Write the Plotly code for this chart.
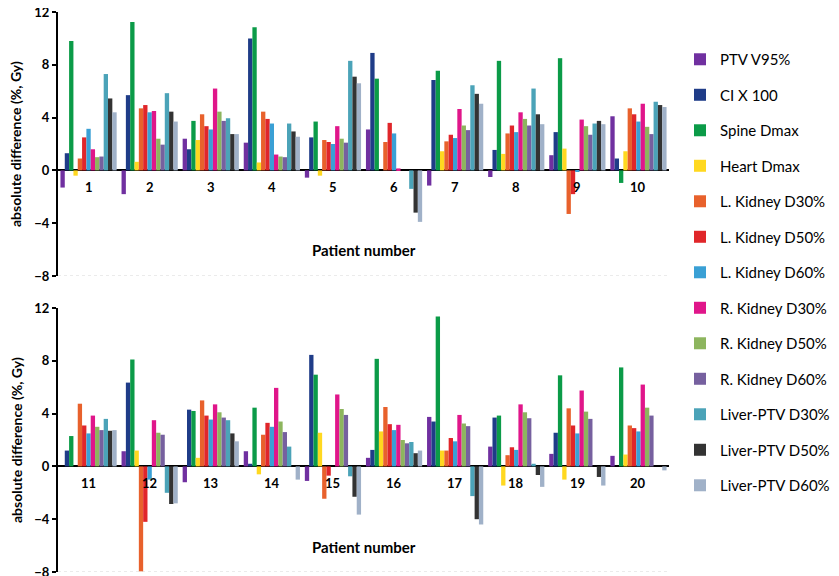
import plotly.graph_objects as go

patients = [str(i) for i in range(1, 21)]
series_names = ["PTV V95%", "CI X 100", "Spine Dmax", "Heart Dmax", "L. Kidney D30%",
                "L. Kidney D50%", "L. Kidney D60%", "R. Kidney D30%", "R. Kidney D50%",
                "R. Kidney D60%", "Liver-PTV D30%", "Liver-PTV D50%", "Liver-PTV D60%"]

ptv_v95 = [-1.3, -1.8, 2.4, 2.1, -0.55, 3.1, -1.15, -0.5, 1.15, 4.1, 0, 1.15, -1.2, 1.15, -1.1, 0.65, 3.75, 1.5, 0.95, 0.8]
ci_x100 = [1.3, 5.7, 1.6, 10.0, 2.5, 8.9, 6.85, 1.55, 2.9, 0.9, 1.2, 6.35, 4.3, 0.2, 8.45, 1.25, 3.4, 3.7, 2.55, 0]
spine_dmax = [9.8, 11.25, 3.75, 10.85, 3.7, 6.95, 7.55, 8.3, 8.5, -0.95, 2.3, 8.1, 4.2, 4.45, 6.95, 8.15, 11.35, 3.85, 6.9, 7.5]
heart_dmax = [-0.4, 0.65, 2.3, 0.6, -0.4, 0, 1.45, 1.25, 1.65, 1.45, 0, 1.2, 0.65, -0.6, 2.55, 2.65, 1.2, -1.45, -1.0, 0.9]
lk_d30 = [0.9, 4.7, 4.25, 4.45, 2.3, 2.15, 2.2, 2.8, -3.3, 4.7, 4.75, -7.95, 5.0, 2.4, -2.45, 4.5, 1.2, 0.85, 4.4, 3.1]
lk_d50 = [2.5, 4.95, 3.35, 3.9, 2.15, 3.6, 2.7, 3.4, -1.8, 4.25, 3.1, -4.2, 3.85, 3.3, -0.7, 3.2, 2.15, 1.45, 3.1, 2.9]
lk_d60 = [3.15, 4.4, 3.1, 3.55, 2.0, 2.8, 2.45, 2.9, -0.1, 3.7, 2.5, -1.0, 3.55, 3.0, 0, 2.75, 1.9, 1.25, 2.5, 2.65]
rk_d30 = [1.6, 4.5, 6.2, 1.2, 3.35, 0.15, 4.65, 4.4, 3.85, 5.05, 3.85, 3.5, 4.7, 5.95, 5.45, 3.15, 3.9, 4.7, 5.75, 6.2]
rk_d50 = [1.0, 2.4, 4.45, 1.05, 2.4, 0, 3.4, 3.9, 3.35, 3.3, 3.0, 2.55, 4.1, 3.4, 4.35, 2.0, 3.25, 4.1, 4.15, 4.45]
rk_d60 = [1.05, 1.95, 3.75, 1.0, 2.1, 0, 3.05, 3.4, 2.7, 2.75, 2.75, 2.4, 3.7, 2.6, 3.9, 1.75, 3.05, 3.65, 3.6, 3.85]
liver_d30 = [7.3, 5.85, 3.95, 3.55, 8.3, -1.4, 6.45, 6.2, 3.55, 5.2, 3.6, -2.0, 3.5, 1.5, -0.75, 1.85, -2.25, 0.2, 0, 0]
liver_d50 = [5.45, 4.45, 2.75, 2.95, 7.1, -3.2, 5.8, 4.25, 3.75, 4.95, 2.7, -2.85, 2.5, 0, -2.3, 1.0, -4.0, -0.65, -0.8, 0]
liver_d60 = [4.4, 3.7, 2.75, 2.55, 6.6, -3.9, 5.05, 3.5, 3.5, 4.8, 2.75, -2.8, 1.9, -1.0, -3.65, 1.2, -4.4, -1.55, -1.45, -0.3]

series_values = [ptv_v95, ci_x100, spine_dmax, heart_dmax, lk_d30, lk_d50, lk_d60,
                 rk_d30, rk_d50, rk_d60, liver_d30, liver_d50, liver_d60]
colors = ["#7030A0", "#1F3C88", "#0B9B48", "#FFD820", "#E8612C", "#E0262A", "#3AA0D5",
          "#E0168A", "#8DB55E", "#76609F", "#4BA3B8", "#333333", "#A0B1C8"]

y_ticks = [-8, -4, 0, 4, 8, 12]
FONT = "Lato, 'Open Sans', sans-serif"

fig = go.Figure()
for i, (name, vals, col) in enumerate(zip(series_names, series_values, colors)):
    fig.add_trace(go.Bar(x=patients[:10], y=vals[:10], name=name, marker_color=col,
                         marker_line_width=0, legendgroup=name, xaxis="x", yaxis="y"))
    fig.add_trace(go.Bar(x=patients[10:], y=vals[10:], name=name, marker_color=col,
                         marker_line_width=0, legendgroup=name, showlegend=False,
                         xaxis="x2", yaxis="y2"))

yax = dict(range=[-8, 12], tickvals=y_ticks, showline=True, linecolor="black", linewidth=2,
           ticks="outside", ticklen=4, tickwidth=1.5, tickcolor="black", showgrid=False,
           zeroline=True, zerolinecolor="black", zerolinewidth=2, automargin=False,
           ticklabeloverflow="allow",
           tickfont=dict(family=FONT, size=13, color="black", weight="bold"))
xax = dict(type="category", showticklabels=False, showline=False, showgrid=False,
           ticks="", range=[-0.5, 9.5], automargin=False)

# the page body adds an 8px offset; margins compensate for it
fig.update_layout(
    width=839, height=576,
    margin=dict(l=50, r=178, t=4, b=12, autoexpand=False),
    paper_bgcolor="white", plot_bgcolor="white",
    barmode="group", bargap=0.08, bargroupgap=0,
    xaxis=dict(xax, domain=[0, 1], anchor="y"),
    yaxis=dict(yax, domain=[0.5286, 1.0], anchor="x"),
    xaxis2=dict(xax, domain=[0, 1], anchor="y2"),
    yaxis2=dict(yax, domain=[0.0, 0.4714], anchor="x2"),
    legend=dict(x=1.018, xanchor="left", y=0.9446, yanchor="top", tracegroupgap=13,
                font=dict(family=FONT, size=15, color="black"), bgcolor="rgba(0,0,0,0)"),
    font=dict(family=FONT),
    showlegend=True,
)

annotations = []
for k, p in enumerate(patients):
    xr, yr = ("x", "y") if k < 10 else ("x2", "y2")
    annotations.append(dict(x=k % 10, y=0, xref=xr, yref=yr, text=p, showarrow=False,
                            yshift=-17, font=dict(family=FONT, size=13, color="black", weight="bold")))
for xr, yr, yy in [("x", "y", -6.06), ("x2", "y2", -6.14)]:
    annotations.append(dict(x=0.5, y=yy, xref=xr + " domain", yref=yr, text="Patient number",
                            showarrow=False, font=dict(family=FONT, size=15, color="black", weight="bold")))
    annotations.append(dict(x=0, y=0.5, xref=xr + " domain", xshift=-42, xanchor="center",
                            yref=yr + " domain", text="absolute difference (%, Gy)", textangle=-90,
                            showarrow=False, font=dict(family=FONT, size=14, color="black", weight="bold")))
fig.update_layout(annotations=annotations)

shapes = []
for xr, yr in [("x", "y"), ("x2", "y2")]:
    shapes.append(dict(type="line", xref=xr + " domain", yref=yr, x0=0, x1=1, y0=-8, y1=-8,
                       line=dict(color="#d9d9d9", width=1, dash="dot"), layer="below"))
fig.update_layout(shapes=shapes)

fig.write_html("out.html")
